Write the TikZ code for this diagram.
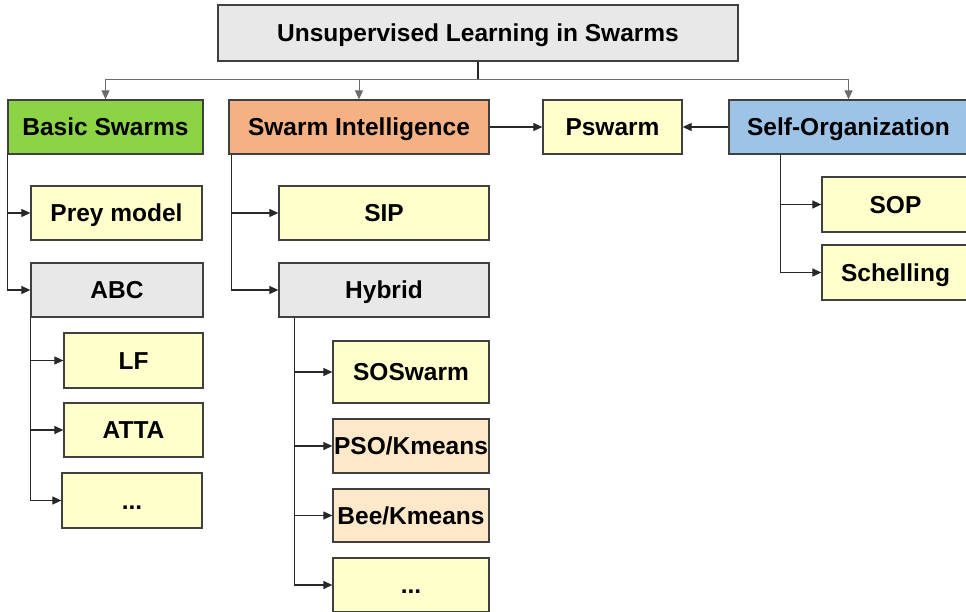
\documentclass[tikz,border=0pt]{standalone}
\usepackage{fontspec}
\setmainfont{Liberation Sans}
\usetikzlibrary{arrows.meta}
\definecolor{bgreen}{RGB}{140,212,70}
\definecolor{sorange}{RGB}{244,177,131}
\definecolor{sblue}{RGB}{157,195,230}
\definecolor{lyellow}{RGB}{255,255,204}
\definecolor{lgray}{RGB}{232,232,232}
\definecolor{peach}{RGB}{253,232,202}
\definecolor{edge}{RGB}{64,64,64}
\definecolor{wire}{RGB}{40,40,40}
\tikzset{
  box/.style={draw=edge, line width=1.3pt, inner sep=0pt, minimum height=54pt,
    font=\fontsize{24.5}{28}\selectfont\bfseries, text=black, anchor=center,
    text height=17.6pt, text depth=0pt},
  conn/.style={draw=wire, line width=1.2pt},
  tip/.style={-{Triangle[length=9pt,width=8pt]}},
  arr/.style={conn, tip},
  bus/.style={draw=gray!85!black, line width=1pt},
}
\begin{document}
\begin{tikzpicture}[x=1pt,y=-1pt]
\useasboundingbox (0,0) rectangle (966,612);
\clip (0,0) rectangle (966,612);
\fill[white] (0,0) rectangle (966,612);
% top
\node[box, fill=lgray, minimum width=520pt, minimum height=56pt] (title) at (478,33) {Unsupervised Learning in Swarms};
% level 1
\node[box, fill=bgreen, minimum width=195pt] (basic) at (105.5,127) {Basic Swarms};
\node[box, fill=sorange, minimum width=260pt] (si) at (359,127) {Swarm Intelligence};
\node[box, fill=lyellow, minimum width=139pt] (pswarm) at (612.5,127) {Pswarm};
\node[box, fill=sblue, minimum width=239pt] (selforg) at (848.5,127) {Self-Organization};
% basic swarms children
\node[box, fill=lyellow, minimum width=171pt] (prey) at (116.5,213) {Prey model};
\node[box, fill=lgray, minimum width=172pt] (abc) at (117,290) {ABC};
\node[box, fill=lyellow, minimum width=139pt, minimum height=55pt] (lf) at (133.5,360.5) {LF};
\node[box, fill=lyellow, minimum width=139pt] (atta) at (133.5,430) {ATTA};
\node[box, fill=lyellow, minimum width=140pt, minimum height=55pt] (dotsa) at (132,500.5) {...};
% swarm intelligence children
\node[box, fill=lyellow, minimum width=210pt] (sip) at (384,213) {SIP};
\node[box, fill=lgray, minimum width=210pt] (hybrid) at (384,290) {Hybrid};
\node[box, fill=lyellow, minimum width=156pt, minimum height=62pt] (soswarm) at (411,372) {SOSwarm};
\node[box, fill=peach, minimum width=156pt] (pso) at (411,446) {PSO/Kmeans};
\node[box, fill=peach, minimum width=156pt, minimum height=53pt] (bee) at (411,515.5) {Bee/Kmeans};
\node[box, fill=lyellow, minimum width=156pt] (dotsb) at (411,585) {...};
% self-organization children
\node[box, fill=lyellow, minimum width=147pt, minimum height=55pt] (sop) at (895.5,204.5) {SOP};
\node[box, fill=lyellow, minimum width=147pt, minimum height=55pt] (schel) at (895.5,272.5) {Schelling};
% connectors from title
\coordinate (busc) at (478,80);
\draw[conn] (title.south) -- (busc);
\draw[bus, tip] (busc) -| (basic.north);
\draw[bus, tip] (busc) -| (si.north);
\draw[bus, tip] (busc) -| (selforg.north);
% level 1 horizontals
\draw[arr] (si.east) -- (pswarm.west);
\draw[arr] (selforg.west) -- (pswarm.east);
% basic swarms
\draw[arr] (basic.south west) |- (prey.west);
\draw[arr] (basic.south west) |- (abc.west);
\draw[arr] (abc.south west) |- (lf.west);
\draw[arr] (abc.south west) |- (atta.west);
\draw[arr] (abc.south west) |- (dotsa.west);
% swarm intelligence
\coordinate (sitrunk) at ([xshift=3pt]si.south west);
\draw[arr] (sitrunk) |- (sip.west);
\draw[arr] (sitrunk) |- (hybrid.west);
\coordinate (hytrunk) at ([xshift=16pt]hybrid.south west);
\draw[arr] (hytrunk) |- (soswarm.west);
\draw[arr] (hytrunk) |- (pso.west);
\draw[arr] (hytrunk) |- (bee.west);
\draw[arr] (hytrunk) |- (dotsb.west);
% self-organization
\coordinate (sotrunk) at ([xshift=52pt]selforg.south west);
\draw[arr] (sotrunk) |- (sop.west);
\draw[arr] (sotrunk) |- (schel.west);
\end{tikzpicture}
\end{document}
